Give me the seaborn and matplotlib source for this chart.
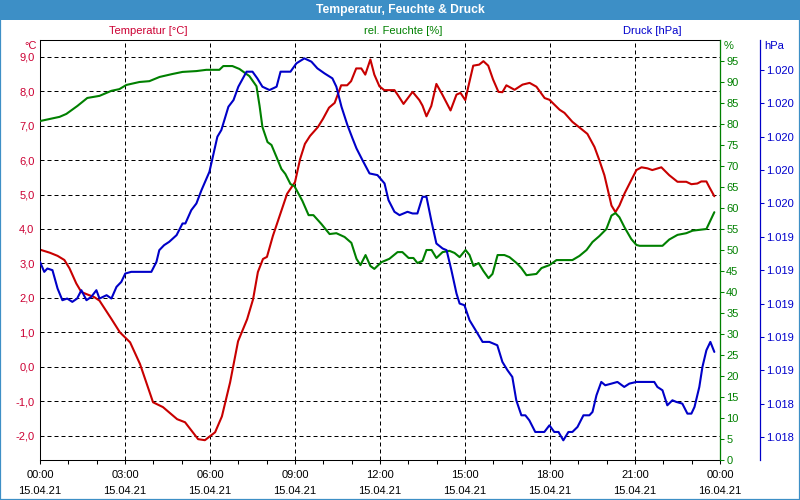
import matplotlib
matplotlib.use("Agg")
import matplotlib.pyplot as plt
from matplotlib.patches import Rectangle
import seaborn as sns
import pandas as pd

# ---------------- data ----------------
title = "Temperatur, Feuchte & Druck"
series_names = ["Temperatur [°C]", "rel. Feuchte [%]", "Druck [hPa]"]

temp_hours = [0.0, 0.35, 0.62, 0.86, 1.04, 1.28, 1.46, 1.67, 1.92, 2.10, 2.52, 2.82, 3.18, 3.53,
              3.99, 4.34, 4.84, 5.12, 5.58, 5.82, 6.18, 6.42, 6.71, 6.99, 7.31, 7.52, 7.69, 7.87,
              8.01, 8.22, 8.54, 8.72, 9.00, 9.18, 9.35, 9.53, 9.81, 9.99, 10.2, 10.4, 10.63, 10.84,
              10.98, 11.16, 11.34, 11.48, 11.66, 11.8, 11.98, 12.15, 12.51, 12.62, 12.83, 13.15,
              13.39, 13.5, 13.64, 13.81, 13.99, 14.2, 14.49, 14.7, 14.84, 15.01, 15.12, 15.29,
              15.5, 15.65, 15.82, 15.99, 16.18, 16.32, 16.46, 16.75, 17.03, 17.28, 17.52, 17.81,
              17.98, 18.34, 18.51, 18.79, 19.11, 19.32, 19.57, 19.74, 19.92, 20.1, 20.17, 20.31,
              20.45, 20.63, 20.87, 21.05, 21.23, 21.44, 21.61, 21.93, 22.21, 22.5, 22.81, 22.99,
              23.2, 23.34, 23.52, 23.62, 23.8]
temp_values = [3.40, 3.31, 3.22, 3.10, 2.86, 2.42, 2.17, 2.10, 2.02, 1.92, 1.39, 1.00, 0.71, 0.08,
               -1.03, -1.17, -1.52, -1.61, -2.10, -2.13, -1.90, -1.44, -0.45, 0.74, 1.38, 1.96, 2.75, 3.13,
               3.19, 3.80, 4.58, 5.02, 5.36, 6.03, 6.47, 6.70, 6.96, 7.20, 7.52, 7.66, 8.17, 8.17,
               8.29, 8.66, 8.66, 8.48, 8.92, 8.48, 8.14, 8.03, 8.03, 7.90, 7.63, 7.98,
               7.74, 7.58, 7.27, 7.57, 8.21, 7.90, 7.44, 7.90, 7.95, 7.74, 8.14, 8.74,
               8.77, 8.87, 8.74, 8.34, 7.98, 7.97, 8.17, 8.04, 8.19, 8.24, 8.13, 7.80,
               7.75, 7.46, 7.37, 7.11, 6.90, 6.76, 6.38, 6.00, 5.56, 4.93, 4.68, 4.49,
               4.68, 5.03, 5.42, 5.71, 5.79, 5.76, 5.71, 5.79, 5.56, 5.37, 5.37, 5.30,
               5.32, 5.38, 5.38, 5.22, 4.95]

hum_hours = [0.0, 0.69, 0.93, 1.32, 1.67, 2.1, 2.52, 2.8, 3.05, 3.51, 3.86, 4.22, 4.67, 5.03, 5.52,
             5.87, 6.33, 6.47, 6.79, 7.04, 7.39, 7.64, 7.75, 7.85, 8.03, 8.17, 8.35, 8.52, 8.66, 8.84,
             8.98, 9.26, 9.48, 9.65, 9.93, 10.22, 10.46, 10.75, 10.99, 11.17, 11.31, 11.49, 11.66,
             11.8, 12.05, 12.33, 12.62, 12.79, 13.01, 13.18, 13.32, 13.5, 13.64, 13.82, 13.99, 14.21,
             14.45, 14.63, 14.81, 15.02, 15.16, 15.3, 15.48, 15.65, 15.83, 15.97, 16.15, 16.39,
             16.57, 16.82, 16.99, 17.17, 17.52, 17.7, 17.98, 18.23, 18.79, 19.04, 19.29, 19.5,
             19.74, 19.99, 20.17, 20.31, 20.45, 20.63, 20.87, 21.05, 21.16, 21.97, 22.21, 22.5,
             22.81, 23.03, 23.52, 23.66, 23.8]
hum_values = [80.7, 81.7, 82.4, 84.3, 86.2, 86.7, 87.9, 88.3, 89.3, 90.0, 90.2, 91.2, 91.9, 92.4, 92.6,
              92.9, 92.9, 93.8, 93.8, 93.1, 91.4, 89.0, 84.3, 79.3, 75.7, 75.0, 72.1, 69.3, 68.1, 65.7,
              65.2, 61.7, 58.3, 58.3, 56.2, 53.8, 54.0, 53.1, 51.7, 47.9, 46.4, 48.8, 46.2,
              45.5, 47.1, 47.9, 49.5, 49.5, 48.1, 48.1, 46.9, 47.4, 50.0, 50.0, 48.1, 49.5,
              49.8, 49.3, 48.3, 50.0, 48.8, 46.2, 46.9, 45.0, 43.3, 44.3, 48.8, 48.8,
              48.3, 46.9, 45.7, 44.0, 44.3, 45.7, 46.4, 47.6, 47.6, 48.6, 50.0, 51.9,
              53.3, 55.0, 58.2, 58.8, 57.8, 55.4, 52.6, 51.2, 51.0, 51.0, 52.5, 53.6,
              54.0, 54.6, 55.0, 57.0, 59.0]

press_hours = [0.0, 0.15, 0.26, 0.44, 0.62, 0.79, 0.96, 1.14, 1.31, 1.46, 1.64, 1.81, 1.99, 2.10,
               2.35, 2.52, 2.7, 2.87, 3.01, 3.22, 3.93, 4.11, 4.21, 4.38, 4.56, 4.82, 5.03, 5.13,
               5.34, 5.52, 5.7, 5.98, 6.26, 6.4, 6.65, 6.83, 7.0, 7.29, 7.5, 7.67, 7.85, 8.1, 8.35,
               8.49, 8.84, 9.05, 9.33, 9.58, 9.79, 10.04, 10.32, 10.46, 10.64, 10.85, 11.03, 11.17,
               11.38, 11.63, 11.91, 12.16, 12.3, 12.51, 12.69, 12.97, 13.15, 13.32, 13.5, 13.64,
               13.82, 13.99, 14.21, 14.35, 14.52, 14.7, 14.81, 14.98, 15.16, 15.41, 15.62, 15.86,
               16.14, 16.32, 16.5, 16.67, 16.81, 16.99, 17.13, 17.27, 17.48, 17.8, 17.98, 18.15,
               18.3, 18.47, 18.65, 18.79, 18.97, 19.18, 19.39, 19.5, 19.64, 19.81, 19.95, 20.17,
               20.38, 20.62, 20.8, 21.05, 21.68, 21.79, 21.97, 22.14, 22.32, 22.46, 22.67, 22.85,
               22.99, 23.1, 23.27, 23.38, 23.52, 23.66, 23.8]
press_values = [1019.25, 1019.19, 1019.21, 1019.20, 1019.09, 1019.02, 1019.03, 1019.01, 1019.03,
                1019.08, 1019.02, 1019.04, 1019.08, 1019.03, 1019.05, 1019.03, 1019.10, 1019.13,
                1019.18, 1019.19, 1019.19, 1019.25, 1019.32, 1019.35, 1019.37, 1019.41, 1019.48,
                1019.48, 1019.56, 1019.60, 1019.68, 1019.79, 1020.00, 1020.04, 1020.18, 1020.22,
                1020.30, 1020.39, 1020.39, 1020.35, 1020.30, 1020.28, 1020.30, 1020.39, 1020.39,
                1020.44, 1020.47, 1020.45, 1020.41, 1020.38, 1020.35, 1020.30, 1020.18, 1020.07,
                1019.99, 1019.93, 1019.86, 1019.78, 1019.77, 1019.72, 1019.62, 1019.55, 1019.53,
                1019.55, 1019.54, 1019.54, 1019.64, 1019.64, 1019.49, 1019.36, 1019.33, 1019.32,
                1019.20, 1019.06, 1019.00, 1018.99, 1018.90, 1018.83, 1018.77, 1018.77, 1018.75,
                1018.65, 1018.60, 1018.56, 1018.42, 1018.33, 1018.33, 1018.30, 1018.23, 1018.23,
                1018.27, 1018.23, 1018.23, 1018.18, 1018.23, 1018.23, 1018.26, 1018.33, 1018.33,
                1018.35, 1018.45, 1018.53, 1018.51, 1018.52, 1018.53, 1018.50, 1018.52, 1018.53,
                1018.53, 1018.50, 1018.48, 1018.39, 1018.42, 1018.41, 1018.40, 1018.34, 1018.34,
                1018.38, 1018.50, 1018.62, 1018.72, 1018.77, 1018.71]

x_tick_hours = [0, 3, 6, 9, 12, 15, 18, 21, 24]
x_tick_labels = ["00:00\n15.04.21", "03:00\n15.04.21", "06:00\n15.04.21", "09:00\n15.04.21",
                 "12:00\n15.04.21", "15:00\n15.04.21", "18:00\n15.04.21", "21:00\n15.04.21",
                 "00:00\n16.04.21"]
temp_ticks = [-2, -1, 0, 1, 2, 3, 4, 5, 6, 7, 8, 9]
temp_tick_labels = ["-2,0", "-1,0", "0,0", "1,0", "2,0", "3,0", "4,0", "5,0", "6,0", "7,0", "8,0", "9,0"]
hum_ticks = list(range(0, 100, 5))
hum_tick_labels = [str(v) for v in hum_ticks]
press_ticks = [1018.2, 1018.4, 1018.6, 1018.8, 1019.0, 1019.2, 1019.4, 1019.6, 1019.8,
               1020.0, 1020.2, 1020.4]
press_tick_labels = ["1.018", "1.018", "1.019", "1.019", "1.019", "1.019", "1.019",
                     "1.020", "1.020", "1.020", "1.020", "1.020"]

# ---------------- style ----------------
sns.set_style("white")
plt.rcParams["font.family"] = ["Liberation Sans", "DejaVu Sans"]
plt.rcParams["font.size"] = 8

RED_LINE = "#c80000"
RED_TXT = "#cc0033"
GREEN = "#008000"
BLUE_LINE = "#0000c8"
BLUE_TXT = "#0000cc"
BAR = "#3d8fc6"

fig = plt.figure(figsize=(8, 5), dpi=100)
fig.patch.set_facecolor("white")

# title bar and frame
fig.patches.append(Rectangle((0, 1 - 20 / 500), 1, 20 / 500, transform=fig.transFigure,
                             facecolor=BAR, edgecolor="none", zorder=0))
fig.patches.append(Rectangle((0, 0), 1, 1, transform=fig.transFigure, fill=False,
                             edgecolor=BAR, linewidth=1.6, zorder=0))
fig.text(0.5, 1 - 10.5 / 500, title, color="white", weight="bold", ha="center", va="center",
         fontsize=8.7)

ax = fig.add_axes([40 / 800, 40 / 500, 680 / 800, 420 / 500])

df_t = pd.DataFrame({"h": temp_hours, "v": temp_values})
df_h = pd.DataFrame({"h": hum_hours, "v": hum_values})
df_p = pd.DataFrame({"h": press_hours, "v": press_values})

sns.lineplot(data=df_t, x="h", y="v", ax=ax, color=RED_LINE, linewidth=1.5,
             estimator=None, sort=False)
ax.set_xlim(0, 24)
ax.set_ylim(-2.705, 9.485)
ax.set_xlabel("")
ax.set_ylabel("")
ax.set_yticks(temp_ticks)
ax.set_yticklabels(temp_tick_labels)
ax.set_xticks(x_tick_hours)
ax.set_xticklabels(x_tick_labels)
ax.set_xticks(range(0, 25), minor=True)
ax.tick_params(axis="y", length=0, pad=4, labelcolor=RED_TXT, labelsize=8)
ax.tick_params(axis="x", which="both", direction="out", length=3, width=0.75, color="black",
               pad=4.5, labelsize=8, labelcolor="black", bottom=True)
for lab in ax.get_xticklabels():
    lab.set_linespacing(1.75)
ax.grid(True, which="major", color="black", linestyle=(0, (4, 3)), linewidth=0.72)
for s in ax.spines.values():
    s.set_color("black")
    s.set_linewidth(0.75)
ax.set_facecolor("white")

# humidity axis
ax2 = ax.twinx()
sns.lineplot(data=df_h, x="h", y="v", ax=ax2, color=GREEN, linewidth=1.5,
             estimator=None, sort=False)
ax2.set_ylim(0, 100)
ax2.set_yticks(hum_ticks)
ax2.set_yticklabels(hum_tick_labels)
ax2.set_ylabel("")
ax2.tick_params(axis="y", direction="out", length=3, width=0.75, color=GREEN,
                labelcolor=GREEN, pad=1.5, labelsize=8)
ax2.spines["right"].set_color(GREEN)
ax2.spines["right"].set_linewidth(0.9)
for k in ("top", "left", "bottom"):
    ax2.spines[k].set_visible(False)

# pressure axis
ax3 = ax.twinx()
sns.lineplot(data=df_p, x="h", y="v", ax=ax3, color=BLUE_LINE, linewidth=1.5,
             estimator=None, sort=False)
ax3.set_ylim(1018.062, 1020.58)
ax3.set_yticks(press_ticks)
ax3.set_yticklabels(press_tick_labels)
ax3.set_ylabel("")
ax3.spines["right"].set_position(("outward", 29))
ax3.spines["right"].set_color(BLUE_LINE)
ax3.spines["right"].set_linewidth(0.9)
for k in ("top", "left", "bottom"):
    ax3.spines[k].set_visible(False)
ax3.tick_params(axis="y", direction="out", length=3, width=0.75, color=BLUE_LINE,
                labelcolor=BLUE_TXT, pad=1.5, labelsize=8)
ax3.set_xlim(0, 24)
ax3.set_xlabel("")

# series captions and unit labels
fig.text(148 / 800, 1 - 31 / 500, series_names[0], color=RED_TXT, ha="center", va="center", fontsize=8)
fig.text(403 / 800, 1 - 31 / 500, series_names[1], color=GREEN, ha="center", va="center", fontsize=8)
fig.text(652 / 800, 1 - 31 / 500, series_names[2], color=BLUE_TXT, ha="center", va="center", fontsize=8)
fig.text(37 / 800, 1 - 46 / 500, "°C", color=RED_TXT, ha="right", va="center", fontsize=8)
fig.text(724 / 800, 1 - 46 / 500, "%", color=GREEN, ha="left", va="center", fontsize=8)
fig.text(764 / 800, 1 - 46 / 500, "hPa", color=BLUE_TXT, ha="left", va="center", fontsize=8)

fig.savefig("out.png", dpi=100, facecolor="white")
